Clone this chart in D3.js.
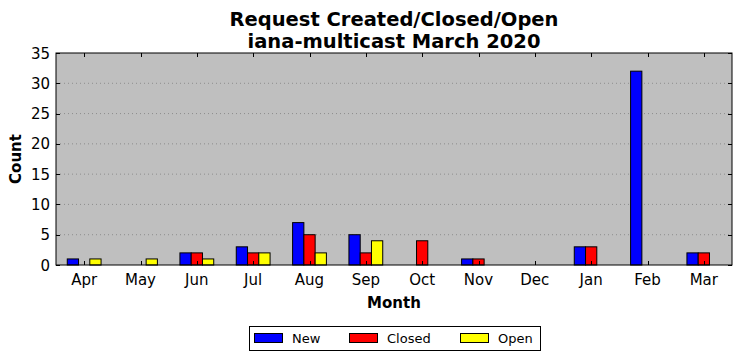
<!DOCTYPE html>
<html><head><meta charset="utf-8">
<script src="https://cdn.jsdelivr.net/npm/d3@7"></script>
<style>body{margin:0;background:#fff;} svg{display:block;font-family:"DejaVu Sans",sans-serif;}</style>
</head><body>
<svg id="c" width="742" height="361"></svg>
<script>
const months = ["Apr","May","Jun","Jul","Aug","Sep","Oct","Nov","Dec","Jan","Feb","Mar"];
const newVals = [1,0,2,3,7,5,0,1,0,3,32,2];
const closedVals = [0,0,2,2,5,2,4,1,0,3,0,2];
const openVals = [1,1,1,2,2,4,0,0,0,0,0,0];
const seriesNames = ["New","Closed","Open"];
const seriesColors = ["#0000ff","#ff0000","#ffff00"];
const yTicks = [0,5,10,15,20,25,30,35];
const titleLines = ["Request Created/Closed/Open","iana-multicast March 2020"];

const svg = d3.select("#c");
const L=56,R=732,T=53,B=265;
const x = d3.scaleLinear().domain([-0.5, months.length-0.5]).range([L,R]);
const y = d3.scaleLinear().domain([0,35]).range([B,T]);
const bw = 0.2;

svg.append("rect").attr("x",L).attr("y",T).attr("width",R-L).attr("height",B-T).attr("fill","#bfbfbf");

// grid
svg.append("g").selectAll("line").data(yTicks.filter(d=>d>0&&d<35)).join("line")
  .attr("x1",L).attr("x2",R).attr("y1",d=>y(d)).attr("y2",d=>y(d))
  .attr("stroke","#808080").attr("stroke-width",0.8).attr("stroke-dasharray","1,3");

const series = [newVals, closedVals, openVals];
series.forEach((vals,si)=>{
  svg.append("g").selectAll("rect").data(vals).join("rect")
    .attr("x",(d,i)=>x(i+(si-1.5)*bw))
    .attr("width",x(bw)-x(0))
    .attr("y",d=>y(d))
    .attr("height",d=>y(0)-y(d))
    .attr("fill",seriesColors[si])
    .attr("stroke","#000").attr("stroke-width",1);
});

// ticks
const tg = svg.append("g").attr("stroke","#000").attr("stroke-width",1);
months.forEach((m,i)=>{
  const xx = Math.round(x(i))+0.5;
  tg.append("line").attr("x1",xx).attr("x2",xx).attr("y1",B).attr("y2",B-4);
  tg.append("line").attr("x1",xx).attr("x2",xx).attr("y1",T).attr("y2",T+4);
});
yTicks.forEach(v=>{
  const yy = Math.round(y(v))+0.5;
  tg.append("line").attr("x1",L).attr("x2",L+4).attr("y1",yy).attr("y2",yy);
  tg.append("line").attr("x1",R).attr("x2",R-4).attr("y1",yy).attr("y2",yy);
});

svg.append("rect").attr("x",L).attr("y",T).attr("width",R-L).attr("height",B-T)
  .attr("fill","none").attr("stroke","#000").attr("stroke-width",1);

// tick labels
svg.append("g").selectAll("text").data(months).join("text")
  .attr("x",(d,i)=>x(i)).attr("y",B+20).attr("text-anchor","middle")
  .attr("font-size",15).text(d=>d);
svg.append("g").selectAll("text").data(yTicks).join("text")
  .attr("x",L-6).attr("y",d=>y(d)+5.5).attr("text-anchor","end")
  .attr("font-size",15).text(d=>d);

// axis labels
svg.append("text").attr("x",(L+R)/2).attr("y",308).attr("text-anchor","middle")
  .attr("font-size",15).attr("font-weight","bold").text("Month");
svg.append("text").attr("transform",`translate(21,${(T+B)/2}) rotate(-90)`).attr("text-anchor","middle")
  .attr("font-size",15).attr("font-weight","bold").text("Count");

// title
titleLines.forEach((t,i)=>{
  svg.append("text").attr("x",(L+R)/2).attr("y",26+i*22).attr("text-anchor","middle")
    .attr("font-size",19.5).attr("font-weight","bold").text(t);
});

// legend
const lg = svg.append("g");
lg.append("rect").attr("x",249.5).attr("y",326.5).attr("width",291).attr("height",24)
  .attr("fill","#fff").attr("stroke","#000").attr("stroke-width",1);
const lx = [254,349,460];
seriesNames.forEach((n,i)=>{
  lg.append("rect").attr("x",lx[i]+0.5).attr("y",333.5).attr("width",28).attr("height",9)
    .attr("fill",seriesColors[i]).attr("stroke","#000").attr("stroke-width",1);
  lg.append("text").attr("x",lx[i]+38).attr("y",343).attr("font-size",13).text(n);
});
</script>
</body></html>
